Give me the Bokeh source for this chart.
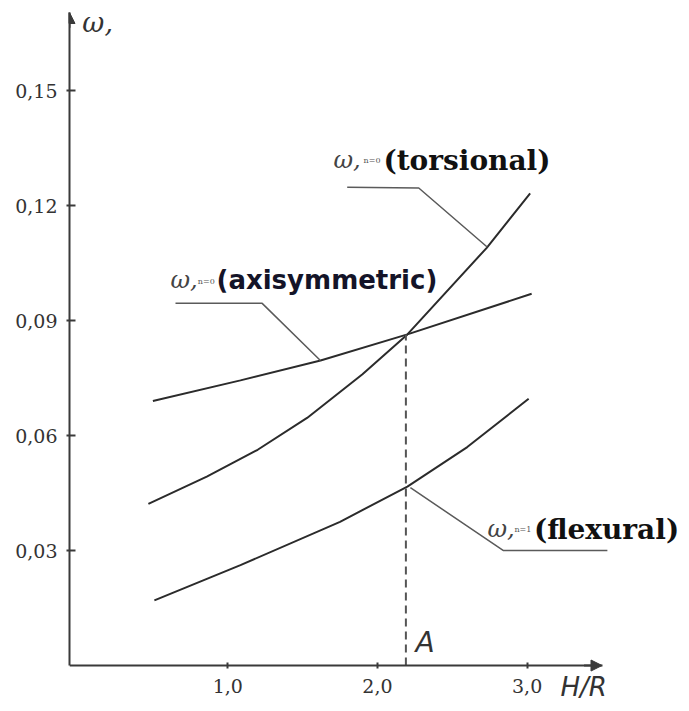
from bokeh.plotting import figure
from bokeh.models import Label, Arrow, NormalHead, FixedTicker
from bokeh.embed import file_html
from bokeh.resources import INLINE

# ---- data ----
axi_x = [0.50, 1.085, 1.62, 2.20, 3.03]
axi_y = [0.0690, 0.0744, 0.0796, 0.0864, 0.0970]

tor_x = [0.47, 0.86, 1.20, 1.53, 1.90, 2.20, 2.73, 3.02]
tor_y = [0.0422, 0.0493, 0.0563, 0.0646, 0.0760, 0.0864, 0.1090, 0.1232]

flx_x = [0.51, 1.085, 1.75, 2.20, 2.60, 3.01]
flx_y = [0.0170, 0.0262, 0.0375, 0.0467, 0.0570, 0.0696]

point_a_x = 2.19
point_a_y = 0.0864

x_ticks = [1.0, 2.0, 3.0]
x_tick_labels = ["1,0", "2,0", "3,0"]
y_ticks = [0.03, 0.06, 0.09, 0.12, 0.15]
y_tick_labels = ["0,03", "0,06", "0,09", "0,12", "0,15"]

# leader lines (callouts)
lead_tor_x = [1.798, 2.276, 2.733]
lead_tor_y = [0.1248, 0.1246, 0.1092]
lead_axi_x = [0.651, 1.230, 1.619]
lead_axi_y = [0.0945, 0.0945, 0.0796]
lead_flx_x = [2.220, 2.842, 3.536]
lead_flx_y = [0.0464, 0.0300, 0.0300]

X0, X1 = -0.057, 3.5
Y1 = 0.1704

AX = "#3a3a3a"
CURVE = "#2b2b2b"
LEAD = "#5a5a5a"

p = figure(width=681, height=703, x_range=(X0, 4.011), y_range=(-0.00965, Y1),
           output_backend="svg", toolbar_location=None,
           min_border_left=69, min_border_right=3, min_border_top=12,
           min_border_bottom=1)
p.outline_line_color = None
p.grid.visible = False
p.background_fill_color = "white"

for ax in (p.xaxis, p.yaxis):
    ax.axis_line_width = 2
    ax.axis_line_color = AX
    ax.major_tick_line_color = AX
    ax.major_tick_line_width = 2
    ax.minor_tick_line_color = None
    ax.major_label_text_font = "DejaVu Serif"
    ax.major_label_text_font_size = "19px"
    ax.major_label_text_color = "#333333"

p.xaxis.fixed_location = 0
p.xaxis.bounds = (X0, X1)
p.yaxis.bounds = (0, Y1)
p.xaxis.ticker = FixedTicker(ticks=x_ticks)
p.yaxis.ticker = FixedTicker(ticks=y_ticks)
p.xaxis.major_label_overrides = dict(zip(x_ticks, x_tick_labels))
p.yaxis.major_label_overrides = dict(zip(y_ticks, y_tick_labels))
p.xaxis.major_tick_in = 3
p.xaxis.major_tick_out = 3
p.yaxis.major_tick_in = 6
p.yaxis.major_tick_out = 3
p.xaxis.major_label_standoff = 10
p.yaxis.major_label_standoff = 9

# arrow heads on axes
p.add_layout(Arrow(end=NormalHead(size=11, fill_color=AX, line_color=AX),
                   x_start=X1 - 0.12, y_start=0, x_end=X1, y_end=0,
                   line_width=2, line_color=AX))
p.add_layout(Arrow(end=NormalHead(size=11, fill_color=AX, line_color=AX),
                   x_start=X0, y_start=Y1 - 0.004, x_end=X0, y_end=Y1,
                   line_width=2, line_color=AX))

# curves
p.line(axi_x, axi_y, line_width=2, line_color=CURVE)
p.line(tor_x, tor_y, line_width=2, line_color=CURVE)
p.line(flx_x, flx_y, line_width=2, line_color=CURVE)

# dashed line to point A
p.segment(x0=[point_a_x], y0=[0], x1=[point_a_x], y1=[point_a_y],
          line_dash="8 5", line_width=2, line_color="#555555")

# leader lines
for lx, ly in ((lead_tor_x, lead_tor_y), (lead_axi_x, lead_axi_y), (lead_flx_x, lead_flx_y)):
    p.line(lx, ly, line_width=1.5, line_color=LEAD)


def lab(x, y, text, font, size, style="normal", color="#222222"):
    p.add_layout(Label(x=x, y=y, text=text, text_font=font, text_font_size=size,
                       text_font_style=style, text_color=color,
                       text_baseline="middle", text_align="left"))


# axis labels
lab(0.029, 0.1678, "ω,", "DejaVu Serif", "27px", "italic", "#333333")
lab(3.223, -0.0057, "H/R", "DejaVu Sans", "26px", "italic", "#333333")
lab(2.254, 0.0061, "A", "DejaVu Sans", "28px", "italic", "#333333")

# curve labels
lab(1.706, 0.1319, "ω,", "DejaVu Serif", "24px", "italic", "#444444")
lab(1.907, 0.1319, "n=0", "DejaVu Serif", "8px", "normal", "#555555")
lab(2.040, 0.1319, "(torsional)", "DejaVu Serif", "28px", "bold", "#111111")

lab(0.618, 0.1007, "ω,", "DejaVu Serif", "24px", "italic", "#444444")
lab(0.800, 0.1003, "n=0", "DejaVu Serif", "8px", "normal", "#555555")
lab(0.925, 0.1007, "(axisymmetric)", "DejaVu Sans", "26px", "bold", "#141428")

lab(2.735, 0.0355, "ω,", "DejaVu Serif", "24px", "italic", "#444444")
lab(2.915, 0.0355, "n=1", "DejaVu Serif", "8px", "normal", "#555555")
lab(3.045, 0.0355, "(flexural)", "DejaVu Serif", "28px", "bold", "#111111")

open("out.html", "w").write(file_html(p, INLINE))
